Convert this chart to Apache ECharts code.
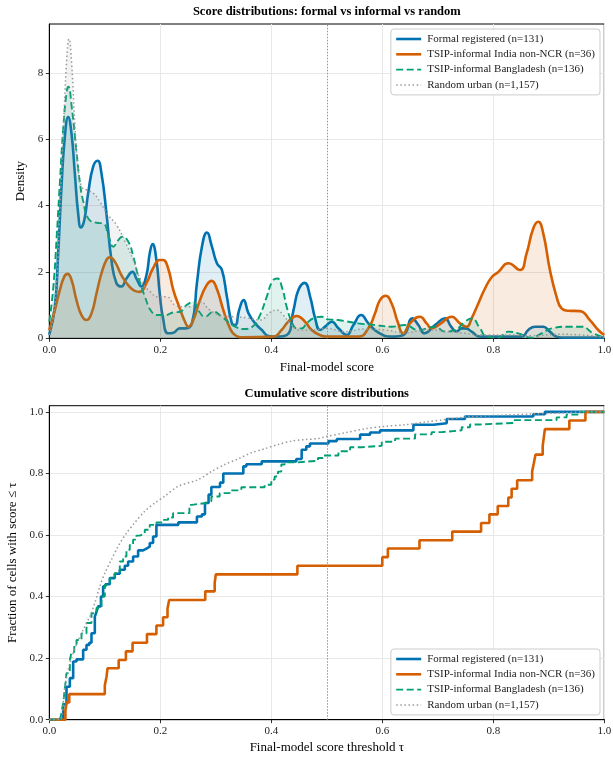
<!DOCTYPE html>
<html>
<head>
<meta charset="utf-8">
<script src="https://cdn.jsdelivr.net/npm/echarts@6/dist/echarts.min.js"></script>
<style>
  html, body { margin: 0; padding: 0; background: #ffffff; }
  #chart { width: 613px; height: 758px; }
</style>
</head>
<body>
<div id="chart"></div>
<script>
// ---- groups ----
const groupNames = [
  'Formal registered (n=131)',
  'TSIP-informal India non-NCR (n=36)',
  'TSIP-informal Bangladesh (n=136)',
  'Random urban (n=1,157)'
];

// ---- axis ticks ----
const scoreTicks = [0, 0.2, 0.4, 0.6, 0.8, 1.0];
const densityTicks = [0, 2, 4, 6, 8];
const fractionTicks = [0, 0.2, 0.4, 0.6, 0.8, 1.0];
const thresholdMarker = 0.5;

// ---- kernel density estimates: [score, density] ----
const formalDensity = [
  [0,0.1],[0.010,0.95],[0.016,2.56],[0.022,4.57],[0.028,6.07],[0.034,6.67],[0.040,6.17],[0.046,4.97],
  [0.052,3.76],[0.057,3.34],[0.063,3.56],[0.070,4.37],[0.079,5.17],[0.087,5.35],[0.094,4.97],[0.103,3.76],
  [0.112,2.36],[0.121,1.66],[0.130,1.56],[0.139,1.8],[0.150,2.0],[0.157,1.8],[0.166,1.56],[0.175,1.9],
  [0.181,2.56],[0.186,2.84],[0.193,2.36],[0.199,1.35],[0.205,0.6],[0.214,0.15],[0.224,0.17],[0.235,0.3],
  [0.245,0.3],[0.257,0.45],[0.266,1.66],[0.275,2.76],[0.284,3.19],[0.293,2.76],[0.302,2.26],[0.311,2.06],
  [0.320,1.25],[0.329,0.45],[0.335,0.4],[0.342,0.85],[0.350,1.15],[0.359,0.75],[0.371,0.45],[0.383,0.25],
  [0.395,0.07],[0.410,0.05],[0.428,0.1],[0.440,0.85],[0.449,1.46],[0.460,1.67],[0.470,1.25],[0.479,0.6],
  [0.488,0.25],[0.497,0.35],[0.509,0.5],[0.521,0.3],[0.536,0.1],[0.548,0.4],[0.562,0.7],[0.575,0.45],
  [0.593,0.17],[0.617,0.05],[0.638,0.1],[0.654,0.6],[0.665,0.4],[0.676,0.15],[0.695,0.4],[0.713,0.6],
  [0.724,0.35],[0.734,0.2],[0.743,0.3],[0.750,0.3],[0.761,0.2],[0.776,0.05],[0.851,0.05],[0.863,0.25],
  [0.875,0.35],[0.890,0.35],[0.902,0.2],[0.914,0.05],[0.929,0.02],[1.0,0.02]
];
const indiaDensity = [
  [0,0.25],[0.010,0.85],[0.019,1.45],[0.027,1.86],[0.033,1.94],[0.040,1.76],[0.049,1.15],[0.058,0.7],
  [0.067,0.55],[0.076,0.75],[0.085,1.35],[0.094,1.96],[0.103,2.36],[0.109,2.44],[0.118,2.31],[0.130,1.9],
  [0.142,1.6],[0.154,1.43],[0.163,1.4],[0.175,1.66],[0.187,2.11],[0.199,2.36],[0.205,2.36],[0.214,2.11],
  [0.2235,1.45],[0.234,0.95],[0.2445,0.5],[0.2505,0.35],[0.2595,0.55],[0.2715,1.15],[0.2835,1.6],[0.2925,1.73],
  [0.3016,1.5],[0.3136,0.85],[0.3256,0.3],[0.3346,0.1],[0.3496,0.03],[0.4036,0.05],[0.4186,0.25],[0.4306,0.5],
  [0.4457,0.67],[0.4607,0.5],[0.4727,0.25],[0.4877,0.1],[0.4997,0.05],[0.5568,0.05],[0.5748,0.3],[0.5868,0.75],
  [0.5958,1.15],[0.606,1.28],[0.6168,1.05],[0.6276,0.5],[0.6378,0.15],[0.6498,0.45],[0.6679,0.65],[0.6799,0.45],
  [0.6889,0.3],[0.7039,0.43],[0.7249,0.65],[0.7399,0.45],[0.752,0.35],[0.761,0.6],[0.773,1.05],[0.785,1.5],
  [0.797,1.84],[0.809,2.0],[0.827,2.26],[0.848,2.06],[0.860,2.56],[0.872,3.31],[0.881,3.51],[0.890,3.16],
  [0.902,2.06],[0.914,1.25],[0.923,0.9],[0.935,0.83],[0.956,0.82],[0.974,0.55],[0.989,0.25],[1.0,0.1]
];
const bangladeshDensity = [
  [0,0.5],[0.0073,1.55],[0.0133,3.06],[0.0193,4.77],[0.0253,6.37],[0.0313,7.43],[0.0343,7.58],[0.0403,6.98],
  [0.0493,5.57],[0.0553,4.67],[0.0613,4.11],[0.0703,3.61],[0.0853,3.48],[0.0973,3.46],[0.1063,3.11],[0.1154,2.76],
  [0.1244,2.96],[0.1316,3.06],[0.1424,2.91],[0.1514,2.46],[0.1604,1.86],[0.1724,1.25],[0.1844,0.8],[0.1964,0.7],
  [0.2085,0.7],[0.2235,0.78],[0.2355,0.8],[0.2475,1.0],[0.2595,1.1],[0.2703,0.8],[0.2805,0.65],[0.2955,0.8],
  [0.3106,0.65],[0.3256,0.45],[0.3376,0.33],[0.3496,0.28],[0.3676,0.37],[0.3796,0.7],[0.3917,1.25],[0.4024,1.73],
  [0.4108,1.8],[0.4198,1.5],[0.4277,0.95],[0.4367,0.5],[0.4457,0.3],[0.4547,0.3],[0.4637,0.45],[0.4757,0.6],
  [0.4907,0.65],[0.5027,0.57],[0.5208,0.55],[0.5568,0.45],[0.5868,0.4],[0.6168,0.35],[0.6408,0.4],[0.6649,0.25],
  [0.695,0.35],[0.713,0.2],[0.731,0.25],[0.749,0.5],[0.761,0.6],[0.776,0.3],[0.788,0.05],[0.809,0.02],
  [0.827,0.2],[0.845,0.15],[0.869,0.02],[0.887,0.15],[0.905,0.3],[0.935,0.35],[0.959,0.35],[0.980,0.15],[1.0,0.02]
];
const randomDensity = [
  [0,0.1],[0.0103,1.05],[0.0193,3.97],[0.0253,6.27],[0.0313,8.38],[0.0355,9.02],[0.0403,8.28],[0.0463,6.37],
  [0.0523,5.07],[0.0583,4.57],[0.0673,4.47],[0.0793,4.37],[0.0913,4.11],[0.1063,3.71],[0.1214,3.41],[0.1364,2.91],
  [0.1514,2.36],[0.1664,1.71],[0.1814,1.41],[0.1964,1.25],[0.2114,1.25],[0.2264,1.0],[0.2415,0.95],[0.2535,0.95],
  [0.2715,1.1],[0.2895,0.85],[0.3076,0.7],[0.3316,0.65],[0.3556,0.62],[0.3796,0.55],[0.3977,0.78],[0.4096,0.85],
  [0.4216,0.7],[0.4337,0.45],[0.4517,0.25],[0.4757,0.25],[0.4997,0.3],[0.533,0.2],[0.569,0.28],[0.605,0.25],
  [0.641,0.17],[0.677,0.25],[0.713,0.22],[0.749,0.15],[0.78,0.1],[0.83,0.1],[0.87,0.08],[0.92,0.12],[0.96,0.1],[1.0,0.03]
];

// ---- empirical cumulative distributions: [threshold, fraction ≤ threshold] ----
const formalCdf = [
  [0,0],[0.019,0],[0.025,0.05],[0.031,0.107],[0.037,0.135],[0.043,0.189],[0.049,0.196],[0.061,0.227],
  [0.067,0.243],[0.072,0.25],[0.076,0.281],[0.082,0.335],[0.085,0.35],[0.088,0.368],[0.093,0.40],[0.097,0.433],
  [0.101,0.44],[0.109,0.46],[0.118,0.474],[0.127,0.487],[0.136,0.5],[0.142,0.514],[0.151,0.53],[0.160,0.55],
  [0.169,0.556],[0.175,0.562],[0.181,0.574],[0.187,0.595],[0.193,0.633],[0.2325,0.641],[0.266,0.66],[0.275,0.667],
  [0.2805,0.704],[0.287,0.731],[0.292,0.756],[0.3076,0.77],[0.3135,0.80],[0.3496,0.823],[0.355,0.83],[0.3827,0.839],
  [0.445,0.847],[0.4547,0.877],[0.463,0.888],[0.4697,0.897],[0.503,0.905],[0.518,0.912],[0.56,0.926],[0.578,0.933],
  [0.596,0.94],[0.656,0.958],[0.692,0.963],[0.716,0.977],[0.749,0.985],[0.872,0.992],[0.893,1.0],[1.0,1.0]
];
const indiaCdf = [
  [0,0],[0.029,0.028],[0.031,0.056],[0.036,0.083],[0.100,0.111],[0.103,0.139],[0.105,0.167],[0.125,0.194],
  [0.138,0.222],[0.150,0.25],[0.176,0.278],[0.193,0.306],[0.205,0.333],[0.213,0.361],[0.216,0.389],[0.281,0.417],
  [0.298,0.444],[0.300,0.472],[0.447,0.5],[0.600,0.528],[0.610,0.556],[0.667,0.583],[0.726,0.611],[0.778,0.639],
  [0.793,0.667],[0.808,0.694],[0.827,0.722],[0.833,0.75],[0.843,0.778],[0.870,0.806],[0.873,0.833],[0.876,0.861],
  [0.889,0.889],[0.891,0.917],[0.893,0.944],[0.937,0.972],[0.966,1.0],[1.0,1.0]
];
const bangladeshCdf = [
  [0,0],[0.019,0],[0.022,0.022],[0.025,0.053],[0.028,0.1],[0.031,0.151],[0.037,0.194],[0.040,0.22],
  [0.045,0.24],[0.049,0.259],[0.058,0.28],[0.067,0.314],[0.076,0.346],[0.085,0.363],[0.094,0.40],[0.1,0.438],
  [0.109,0.46],[0.118,0.476],[0.127,0.514],[0.133,0.53],[0.139,0.552],[0.145,0.568],[0.151,0.585],[0.157,0.598],
  [0.163,0.604],[0.172,0.617],[0.181,0.633],[0.193,0.641],[0.205,0.649],[0.214,0.657],[0.223,0.671],[0.2525,0.698],
  [0.257,0.704],[0.283,0.71],[0.292,0.725],[0.307,0.736],[0.325,0.745],[0.346,0.755],[0.388,0.763],[0.4,0.78],
  [0.406,0.79],[0.412,0.806],[0.418,0.829],[0.424,0.836],[0.448,0.841],[0.484,0.85],[0.493,0.858],[0.521,0.872],
  [0.542,0.885],[0.563,0.89],[0.599,0.903],[0.623,0.913],[0.659,0.927],[0.689,0.934],[0.707,0.94],[0.743,0.95],
  [0.758,0.959],[0.776,0.964],[0.836,0.973],[0.914,0.982],[0.932,0.991],[0.956,1.0],[1,1]
];
const randomCdf = [
  [0,0],[0.019,0],[0.028,0.107],[0.037,0.183],[0.049,0.245],[0.061,0.292],[0.073,0.335],[0.082,0.379],
  [0.091,0.433],[0.1,0.476],[0.112,0.52],[0.124,0.563],[0.139,0.606],[0.154,0.64],[0.172,0.677],[0.19,0.704],
  [0.208,0.726],[0.232,0.758],[0.2686,0.78],[0.292,0.806],[0.316,0.829],[0.34,0.847],[0.364,0.867],[0.388,0.88],
  [0.412,0.894],[0.436,0.905],[0.46,0.91],[0.484,0.913],[0.497,0.919],[0.533,0.932],[0.569,0.945],[0.605,0.953],
  [0.641,0.958],[0.677,0.967],[0.713,0.975],[0.758,0.984],[0.869,0.993],[0.929,0.997],[0.96,1.0],[1,1]
];

// ---- presentation ----
const FONT = "'Liberation Serif', 'DejaVu Serif', serif";
const lineStyles = [
  { color: '#0072B2', width: 2.6, type: 'solid' },
  { color: '#D55E00', width: 2.6, type: 'solid' },
  { color: '#009E73', width: 1.9, type: [7, 3.5] },
  { color: '#999999', width: 1.5, type: [1.5, 2.6] }
];
const densitySets = [formalDensity, indiaDensity, bangladeshDensity, randomDensity];
const cdfSets = [formalCdf, indiaCdf, bangladeshCdf, randomCdf];

const vline = {
  silent: true, symbol: 'none', label: { show: false },
  lineStyle: { color: '#888888', width: 0.9, type: [1.5, 1.5] },
  data: [{ xAxis: thresholdMarker }]
};

const series = [];
densitySets.forEach((d, i) => {
  series.push({
    type: 'line', name: groupNames[i], xAxisIndex: 0, yAxisIndex: 0,
    data: d, symbol: 'none', smooth: 0.5,
    lineStyle: lineStyles[i], itemStyle: { color: lineStyles[i].color },
    areaStyle: { color: lineStyles[i].color, opacity: 0.12 },
    z: 3 + i, animation: false,
    markLine: i === 0 ? vline : undefined
  });
});
cdfSets.forEach((d, i) => {
  series.push({
    type: 'line', name: groupNames[i], xAxisIndex: 1, yAxisIndex: 1,
    data: d, symbol: 'none', step: i === 3 ? false : 'end', smooth: i === 3 ? 0.3 : false,
    lineStyle: lineStyles[i], itemStyle: { color: lineStyles[i].color },
    z: 3 + i, animation: false,
    markLine: i === 0 ? vline : undefined
  });
});

function xAxisFor(gridIndex, name, gap) {
  return {
    type: 'value', gridIndex, min: 0, max: 1, interval: 0.2,
    name, nameLocation: 'middle', nameGap: gap,
    nameTextStyle: { fontFamily: FONT, fontSize: 13, color: '#000' },
    axisLine: { show: true, onZero: false, lineStyle: { color: '#000', width: 1 } },
    axisTick: { show: true, inside: false, length: 3.5, lineStyle: { color: '#000', width: 0.8 }, customValues: scoreTicks },
    axisLabel: { customValues: scoreTicks, formatter: v => v.toFixed(1), fontFamily: FONT, fontSize: 11, color: '#222', margin: 6 },
    splitLine: { show: true, lineStyle: { color: '#e8e8e8', width: 1 } }
  };
}
function yAxisFor(gridIndex, max, interval, ticks, fmt, name, gap) {
  return {
    type: 'value', gridIndex, min: 0, max, interval,
    name, nameLocation: 'middle', nameGap: gap, nameRotate: 90,
    nameTextStyle: { fontFamily: FONT, fontSize: 13, color: '#000' },
    axisLine: { show: true, onZero: false, lineStyle: { color: '#000', width: 1 } },
    axisTick: { show: true, inside: false, length: 3.5, lineStyle: { color: '#000', width: 0.8 }, customValues: ticks },
    axisLabel: { customValues: ticks, formatter: fmt, fontFamily: FONT, fontSize: 11, color: '#222', margin: 6 },
    splitLine: { show: true, lineStyle: { color: '#e8e8e8', width: 1 } }
  };
}
function legendAt(top) {
  return {
    orient: 'vertical', right: 13, top, selectedMode: false,
    data: groupNames.map((name, i) => ({ name, lineStyle: { width: lineStyles[i].width } })),
    itemWidth: 25, itemHeight: 12, itemGap: 3.3,
    itemStyle: { opacity: 0 },
    padding: [4, 5, 4, 4],
    backgroundColor: 'rgba(255,255,255,0.85)', borderColor: '#cccccc', borderWidth: 1, borderRadius: 3,
    textStyle: { fontFamily: FONT, fontSize: 11, color: '#222', lineHeight: 12, padding: [0, 0, 0, 1] }
  };
}

const gridBase = { left: 49.3, width: 555, show: true, borderColor: '#000', borderWidth: 1, backgroundColor: 'transparent', outerBoundsMode: 'none', containLabel: false };

const option = {
  animation: false,
  backgroundColor: '#ffffff',
  grid: [
    Object.assign({}, gridBase, { top: 24, height: 314.3 }),
    Object.assign({}, gridBase, { top: 405.7, height: 314 })
  ],
  xAxis: [
    xAxisFor(0, 'Final-model score', 23),
    xAxisFor(1, 'Final-model score threshold τ', 21)
  ],
  yAxis: [
    yAxisFor(0, 9.47, 2, densityTicks, v => String(v), 'Density', 21),
    yAxisFor(1, 1.02, 0.2, fractionTicks, v => v.toFixed(1), 'Fraction of cells with score ≤ τ', 29)
  ],
  legend: [legendAt(29), legendAt(649)],
  graphic: [
    { type: 'text', x: 326.8, y: 12, style: { text: 'Score distributions: formal vs informal vs random', fontFamily: FONT, fontSize: 12.5, fontWeight: 'bold', fill: '#000', textAlign: 'center', textVerticalAlign: 'middle' } },
    { type: 'text', x: 326.8, y: 394, style: { text: 'Cumulative score distributions', fontFamily: FONT, fontSize: 12.5, fontWeight: 'bold', fill: '#000', textAlign: 'center', textVerticalAlign: 'middle' } }
  ],
  series
};

const chart = echarts.init(document.getElementById('chart'), null, { renderer: 'canvas' });
chart.setOption(option);
</script>
</body>
</html>
